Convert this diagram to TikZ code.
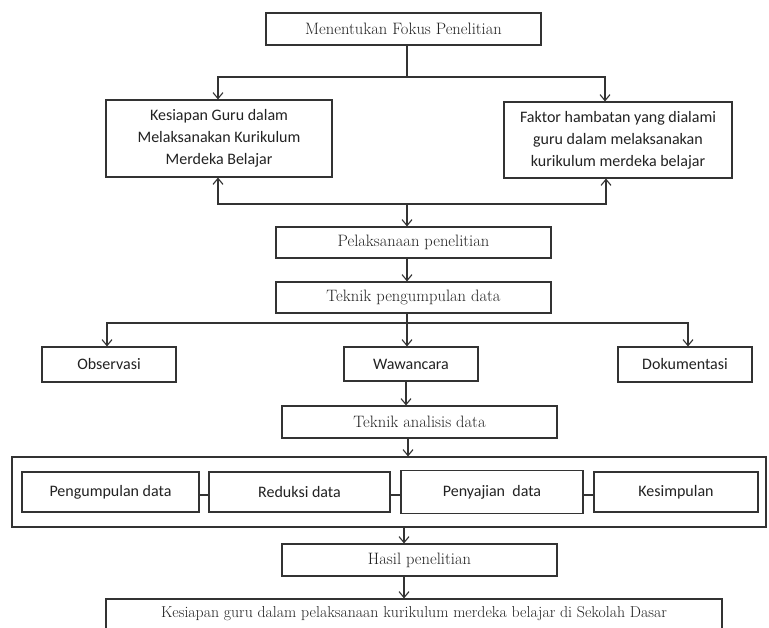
\documentclass[tikz,border=0pt]{standalone}
\usepackage{fontspec}
\setmainfont{Latin Modern Roman}
\newfontfamily\calib{Carlito}
\usetikzlibrary{arrows.meta}
\definecolor{ln}{HTML}{333333}
\definecolor{tx}{HTML}{222222}
\tikzset{
  box/.style={draw=ln, line width=1.1pt, fill=white, inner sep=0pt, align=center, text=tx},
  serifbox/.style={box, font=\fontsize{16.5}{18}\selectfont},
  sansbox/.style={box, font=\calib\fontsize{16}{22}\selectfont},
  conn/.style={draw=ln, line width=1.1pt},
  arr/.style={conn, -{Straight Barb[length=6pt,width=10pt,line width=1.1pt]}}
}
\begin{document}
\begin{tikzpicture}[x=1pt,y=-1pt]
\useasboundingbox (0,0) rectangle (769,628);
\clip (0,0) rectangle (769,628);
\fill[white] (0,0) rectangle (769,628);

% boxes
\node[serifbox, minimum width=275pt, minimum height=32pt] (top) at (403.5,29) {Menentukan Fokus Penelitian};
\node[sansbox, minimum width=226pt, minimum height=77pt] (left) at (219,138.5) {Kesiapan Guru dalam\\Melaksanakan Kurikulum\\Merdeka Belajar};
\node[sansbox, minimum width=228pt, minimum height=76pt] (right) at (618,140) {Faktor hambatan yang dialami\\guru dalam melaksanakan\\kurikulum merdeka belajar};
\node[serifbox, minimum width=275pt, minimum height=31pt] (pel) at (413.5,242.5) {Pelaksanaan penelitian};
\node[serifbox, minimum width=275pt, minimum height=31pt] (tpd) at (413.5,297.5) {Teknik pengumpulan data};
\node[sansbox, minimum width=134pt, minimum height=35pt] (obs) at (109,364.5) {Observasi};
\node[sansbox, minimum width=134pt, minimum height=34pt] (waw) at (411,364) {Wawancara};
\node[sansbox, minimum width=134pt, minimum height=35pt] (dok) at (685,364.5) {Dokumentasi};
\node[serifbox, minimum width=275pt, minimum height=32pt] (tad) at (419.5,422) {Teknik analisis data};
\node[box, minimum width=754pt, minimum height=70pt] (cont) at (389,492) {};
\node[sansbox, minimum width=177pt, minimum height=40pt] (pd) at (110.5,492) {Pengumpulan data};
\node[sansbox, minimum width=181pt, minimum height=40pt] (red) at (299.5,492) {Reduksi data};
\node[sansbox, minimum width=182pt, minimum height=43pt] (pen) at (492,492) {Penyajian\ \ data};
\node[sansbox, minimum width=164pt, minimum height=40pt] (kes) at (676,492) {Kesimpulan};
\node[serifbox, minimum width=275pt, minimum height=32pt] (has) at (419.5,560) {Hasil penelitian};
\node[serifbox, font=\fontsize{15.8}{18}\selectfont, minimum width=616pt, minimum height=30pt] (fin) at (414,614) {Kesiapan guru dalam pelaksanaan kurikulum merdeka belajar di Sekolah Dasar};

% top split
\coordinate (j1) at (407,77);
\coordinate (jl) at (218,77);
\coordinate (jr) at (605,77);
\draw[conn] (top.south -| j1) -- (j1);
\draw[arr] (j1) -- (jl) -- (jl |- left.north);
\draw[arr] (j1) -- (jr) -- (jr |- right.north);

% bottom merge
\coordinate (j2) at (407,204);
\coordinate (bl) at (218,204);
\coordinate (br) at (606,204);
\draw[arr] (j2) -- (bl) -- (bl |- left.south);
\draw[arr] (j2) -- (br) -- (br |- right.south);
\draw[arr] (j2) -- (j2 |- pel.north);

\draw[arr] (pel.south -| j2) -- (tpd.north -| j2);

% data collection split
\coordinate (j3) at (407,323);
\coordinate (oj) at (107,323);
\coordinate (dj) at (688,323);
\draw[conn] (tpd.south -| j3) -- (j3);
\draw[arr] (j3) -- (oj) -- (oj |- obs.north);
\draw[arr] (j3) -- (dj) -- (dj |- dok.north);
\draw[arr] (j3) -- (j3 |- waw.north);

\coordinate (wx) at (406,0);
\draw[arr] (waw.south -| wx) -- (tad.north -| wx);
\coordinate (tx) at (408,0);
\draw[arr] (tad.south -| tx) -- (cont.north -| tx);

% analysis chain
\coordinate (cy) at (0,495);
\draw[conn] (pd.east |- cy) -- (red.west |- cy);
\draw[conn] (red.east |- cy) -- (pen.west |- cy);
\draw[conn] (pen.east |- cy) -- (kes.west |- cy);

\coordinate (hx) at (404,0);
\draw[arr] (cont.south -| hx) -- (has.north -| hx);
\draw[arr] (has.south -| hx) -- (fin.north -| hx);
\end{tikzpicture}
\end{document}
